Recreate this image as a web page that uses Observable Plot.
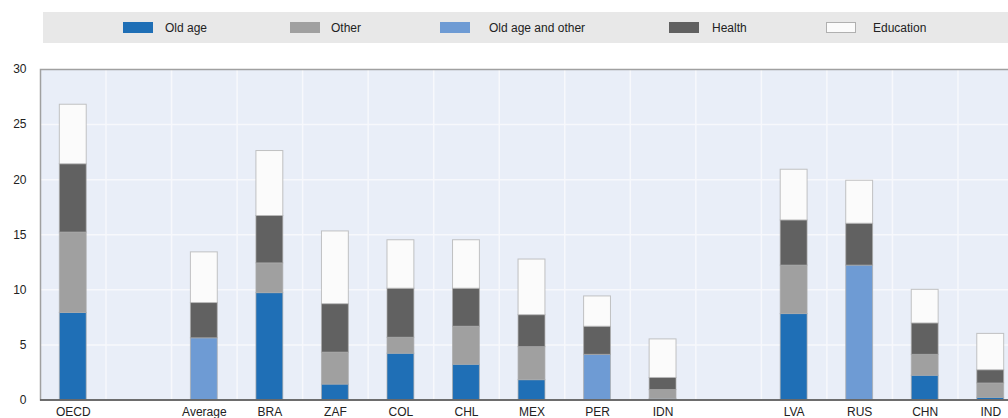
<!DOCTYPE html>
<html>
<head>
<meta charset="utf-8">
<script src="https://cdn.jsdelivr.net/npm/d3@7"></script>
<script src="https://cdn.jsdelivr.net/npm/@observablehq/plot@0.6"></script>
<style>
  html, body { margin: 0; padding: 0; background: #fff; overflow: hidden; width: 1008px; height: 418px; }
  body { font-family: "Liberation Sans", Arial, sans-serif; }
  #legend { position: relative; height: 55px; }
  #legend .band { position: absolute; left: 43px; top: 12px; width: 965px; height: 31px; background: #e8e8e8; }
  #legend .item { position: absolute; top: 0; height: 31px; display: flex; align-items: center; font-size: 12px; color: #222; white-space: nowrap; }
  #legend .sw { width: 30px; height: 11px; box-sizing: border-box; }
  #chart svg { display: block; overflow: hidden; }
</style>
</head>
<body>
<div id="legend"><div class="band"></div></div>
<div id="chart"></div>
<script>
// ---- data ----
const categories = ["OECD", " ", "Average", "BRA", "ZAF", "COL", "CHL", "MEX", "PER", "IDN", "  ", "LVA", "RUS", "CHN", "IND"];
const countries  = ["OECD", "Average", "BRA", "ZAF", "COL", "CHL", "MEX", "PER", "IDN", "LVA", "RUS", "CHN", "IND"];
const oldAge      = [7.9, 0,   9.7, 1.4, 4.2,  3.2,  1.8,  0,    0.1, 7.8, 0,    2.2,  0.2];
const other       = [7.3, 0,   2.7, 2.9, 1.45, 3.45, 3.0,  0,    0.8, 4.4, 0,    1.9,  1.3];
const oldAgeOther = [0,   5.6, 0,   0,   0,    0,    0,    4.1,  0,   0,   12.2, 0,    0];
const health      = [6.2, 3.2, 4.3, 4.4, 4.45, 3.45, 2.9,  2.55, 1.1, 4.1, 3.8,  2.85, 1.2];
const education   = [5.4, 4.6, 5.9, 6.6, 4.4,  4.4,  5.05, 2.75, 3.5, 4.6, 3.9,  3.05, 3.3];
const seriesNames = ["Old age", "Other", "Old age and other", "Health", "Education"];
const seriesColors = ["#1f6fb6", "#a0a0a0", "#6e9bd4", "#616161", "#fbfbfb"];
const yTicks = [0, 5, 10, 15, 20, 25, 30];

// legend layout (offsets within the grey band)
const legendSwatchLeft = [80, 247, 397, 626, 783];
const legendTextGap = [12, 11, 19, 13, 17];

const seriesValues = [oldAge, other, oldAgeOther, health, education];
const rows = [];
countries.forEach((c, i) => {
  seriesNames.forEach((s, j) => {
    const v = seriesValues[j][i];
    if (v > 0) rows.push({country: c, series: s, value: v});
  });
});

// ---- legend ----
const band = document.querySelector("#legend .band");
seriesNames.forEach((s, j) => {
  const it = document.createElement("div");
  it.className = "item";
  it.style.left = legendSwatchLeft[j] + "px";
  const sw = document.createElement("span");
  sw.className = "sw";
  sw.style.background = seriesColors[j];
  sw.style.marginRight = legendTextGap[j] + "px";
  if (s === "Education") sw.style.border = "1.5px solid #b0b0b0";
  it.appendChild(sw);
  it.appendChild(document.createTextNode(s));
  band.appendChild(it);
});

// ---- chart ----
const W = 1008, H = 363;
const marginLeft = 40, marginRight = -15;
const step = (W - marginLeft - marginRight) / categories.length;

const chart = Plot.plot({
  width: W,
  height: H,
  marginTop: 14,
  marginBottom: 18.5,
  marginLeft,
  marginRight,
  style: {fontFamily: "'Liberation Sans', Arial, sans-serif", fontSize: "12px", color: "#222", background: "transparent", overflow: "hidden"},
  x: {domain: categories, paddingInner: 0.59, paddingOuter: 0.295, round: false, label: null},
  y: {domain: [0, 30], label: null},
  color: {domain: seriesNames, range: seriesColors},
  marks: [
    Plot.frame({fill: "#e9eef8"}),
    Plot.ruleY(yTicks.slice(1, -1), {stroke: "#f7f8fc", strokeWidth: 1.5}),
    Plot.ruleX(categories.slice(0, -1), {x: d => d, dx: step / 2, stroke: "#f7f8fc", strokeWidth: 1.5}),
    Plot.barY(rows, {x: "country", y: "value", fill: "series", order: seriesNames, stroke: "#ababab", strokeWidth: 1, strokeOpacity: 0.7}),
    Plot.frame({stroke: "#a0a0a0", strokeWidth: 1.5}),
    Plot.ruleY([0], {stroke: "#555", strokeWidth: 1.5}),
    Plot.axisY({ticks: yTicks, tickSize: 0, tickPadding: 14, fontSize: 12}),
    Plot.axisX({tickSize: 0, tickPadding: 7, fontSize: 12})
  ]
});
document.getElementById("chart").appendChild(chart);
</script>
</body>
</html>
